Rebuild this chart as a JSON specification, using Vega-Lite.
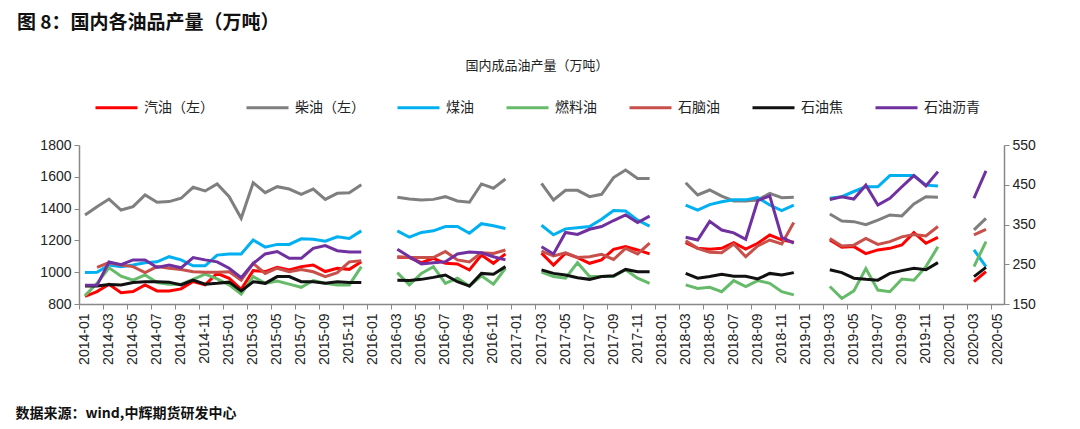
{
  "$schema": "https://vega.github.io/schema/vega-lite/v6.json",
  "width": 925,
  "height": 159,
  "autosize": {"type": "none"},
  "padding": {"left": 79, "top": 145, "right": 76, "bottom": 125},
  "background": "white",
  "config": {"view": {"stroke": null}},
  "title": {
    "text": "图 8：国内各油品产量（万吨）",
    "anchor": "start",
    "frame": "bounds",
    "fontSize": 19,
    "fontWeight": "bold",
    "font": "Noto Sans CJK SC",
    "color": "#111111",
    "offset": 27,
    "dx": 2
  },
  "data": {"values": [
    {"m":"2014-01","汽油（左）":848,"柴油（左）":1360,"煤油":229,"燃料油":171,"石油焦":195,"石油沥青":197},
    {"m":"2014-02","汽油（左）":878,"柴油（左）":1412,"煤油":230,"燃料油":202,"石脑油":242,"石油焦":195,"石油沥青":197},
    {"m":"2014-03","汽油（左）":924,"柴油（左）":1460,"煤油":248,"燃料油":241,"石脑油":254,"石油焦":199,"石油沥青":256},
    {"m":"2014-04","汽油（左）":871,"柴油（左）":1391,"煤油":244,"燃料油":220,"石脑油":248,"石油焦":198,"石油沥青":249},
    {"m":"2014-05","汽油（左）":878,"柴油（左）":1412,"煤油":248,"燃料油":210,"石脑油":244,"石油焦":204,"石油沥青":261},
    {"m":"2014-06","汽油（左）":920,"柴油（左）":1486,"煤油":254,"燃料油":223,"石脑油":229,"石油焦":206,"石油沥青":261},
    {"m":"2014-07","汽油（左）":882,"柴油（左）":1440,"煤油":256,"燃料油":204,"石脑油":244,"石油焦":206,"石油沥青":242},
    {"m":"2014-08","汽油（左）":882,"柴油（左）":1444,"煤油":269,"燃料油":200,"石脑油":240,"石油焦":205,"石油沥青":248},
    {"m":"2014-09","汽油（左）":895,"柴油（左）":1465,"煤油":261,"燃料油":200,"石脑油":237,"石油焦":198,"石油沥青":241},
    {"m":"2014-10","汽油（左）":941,"柴油（左）":1534,"煤油":246,"燃料油":212,"石脑油":231,"石油焦":210,"石油沥青":267},
    {"m":"2014-11","汽油（左）":920,"柴油（左）":1511,"煤油":246,"燃料油":225,"石脑油":230,"石油焦":200,"石油沥青":261},
    {"m":"2014-12","汽油（左）":993,"柴油（左）":1555,"煤油":273,"燃料油":213,"石脑油":230,"石油焦":202,"石油沥青":256},
    {"m":"2015-01","汽油（左）":962,"柴油（左）":1475,"煤油":276,"燃料油":198,"石脑油":231,"石油焦":205,"石油沥青":240},
    {"m":"2015-02","汽油（左）":892,"柴油（左）":1339,"煤油":276,"燃料油":175,"石脑油":210,"石油焦":183,"石油沥青":216},
    {"m":"2015-03","汽油（左）":1010,"柴油（左）":1563,"煤油":311,"燃料油":219,"石脑油":252,"石油焦":206,"石油沥青":252},
    {"m":"2015-04","汽油（左）":1004,"柴油（左）":1500,"煤油":293,"燃料油":202,"石脑油":227,"石油焦":202,"石油沥青":276},
    {"m":"2015-05","汽油（左）":1031,"柴油（左）":1538,"煤油":300,"燃料油":208,"石脑油":240,"石油焦":219,"石油沥青":282},
    {"m":"2015-06","汽油（左）":1014,"柴油（左）":1523,"煤油":300,"燃料油":200,"石脑油":231,"石油焦":219,"石油沥青":265},
    {"m":"2015-07","汽油（左）":1035,"柴油（左）":1490,"煤油":314,"燃料油":192,"石脑油":237,"石油焦":206,"石油沥青":265},
    {"m":"2015-08","汽油（左）":1045,"柴油（左）":1523,"煤油":313,"燃料油":209,"石脑油":231,"石油焦":206,"石油沥青":290},
    {"m":"2015-09","汽油（左）":1004,"柴油（左）":1458,"煤油":308,"燃料油":202,"石脑油":219,"石油焦":202,"石油沥青":297},
    {"m":"2015-10","汽油（左）":1025,"柴油（左）":1496,"煤油":319,"燃料油":198,"石脑油":229,"石油焦":206,"石油沥青":284},
    {"m":"2015-11","汽油（左）":1018,"柴油（左）":1500,"煤油":315,"燃料油":198,"石脑油":256,"石油焦":204,"石油沥青":281},
    {"m":"2015-12","汽油（左）":1066,"柴油（左）":1550,"煤油":334,"燃料油":244,"石脑油":259,"石油焦":204,"石油沥青":281},
    {"m":"2016-01"},
    {"m":"2016-02"},
    {"m":"2016-03","汽油（左）":1094,"柴油（左）":1471,"煤油":334,"燃料油":229,"石脑油":269,"石油焦":210,"石油沥青":288},
    {"m":"2016-04","汽油（左）":1092,"柴油（左）":1460,"煤油":318,"燃料油":198,"石脑油":267,"石油焦":209,"石油沥青":269},
    {"m":"2016-05","汽油（左）":1060,"柴油（左）":1454,"煤油":330,"燃料油":227,"石脑油":267,"石油焦":212,"石油沥青":251},
    {"m":"2016-06","汽油（左）":1087,"柴油（左）":1458,"煤油":334,"燃料油":244,"石脑油":267,"石油焦":217,"石油沥青":254},
    {"m":"2016-07","汽油（左）":1056,"柴油（左）":1475,"煤油":345,"燃料油":202,"石脑油":282,"石油焦":223,"石油沥青":256},
    {"m":"2016-08","汽油（左）":1052,"柴油（左）":1448,"煤油":345,"燃料油":215,"石脑油":261,"石油焦":206,"石油沥青":276},
    {"m":"2016-09","汽油（左）":1014,"柴油（左）":1440,"煤油":328,"燃料油":195,"石脑油":256,"石油焦":195,"石油沥青":281},
    {"m":"2016-10","汽油（左）":1108,"柴油（左）":1555,"煤油":352,"燃料油":221,"石脑油":279,"石油焦":227,"石油沥青":279},
    {"m":"2016-11","汽油（左）":1056,"柴油（左）":1528,"煤油":347,"燃料油":200,"石脑油":277,"石油焦":225,"石油沥青":269},
    {"m":"2016-12","汽油（左）":1115,"柴油（左）":1586,"煤油":340,"燃料油":240,"石脑油":286,"石油焦":244,"石油沥青":261},
    {"m":"2017-01"},
    {"m":"2017-02"},
    {"m":"2017-03","汽油（左）":1120,"柴油（左）":1559,"煤油":348,"燃料油":230,"石脑油":283,"石油焦":236,"石油沥青":294},
    {"m":"2017-04","汽油（左）":1045,"柴油（左）":1454,"煤油":324,"燃料油":219,"石脑油":271,"石油焦":227,"石油沥青":276},
    {"m":"2017-05","汽油（左）":1119,"柴油（左）":1515,"煤油":339,"燃料油":215,"石脑油":279,"石油焦":223,"石油沥青":330},
    {"m":"2017-06","汽油（左）":1092,"柴油（左）":1515,"煤油":342,"燃料油":254,"石脑油":267,"石油焦":216,"石油沥青":325},
    {"m":"2017-07","汽油（左）":1056,"柴油（左）":1475,"煤油":345,"燃料油":219,"石脑油":269,"石油焦":212,"石油沥青":338},
    {"m":"2017-08","汽油（左）":1077,"柴油（左）":1490,"煤油":363,"燃料油":219,"石脑油":275,"石油焦":219,"石油沥青":345},
    {"m":"2017-09","汽油（左）":1144,"柴油（左）":1595,"煤油":385,"燃料油":219,"石脑油":262,"石油焦":221,"石油沥青":360},
    {"m":"2017-10","汽油（左）":1161,"柴油（左）":1643,"煤油":384,"燃料油":236,"石脑油":290,"石油焦":237,"石油沥青":374},
    {"m":"2017-11","汽油（左）":1140,"柴油（左）":1590,"煤油":361,"燃料油":215,"石脑油":276,"石油焦":231,"石油沥青":355},
    {"m":"2017-12","汽油（左）":1115,"柴油（左）":1590,"煤油":346,"燃料油":202,"石脑油":303,"石油焦":231,"石油沥青":371},
    {"m":"2018-01"},
    {"m":"2018-02"},
    {"m":"2018-03","汽油（左）":1186,"柴油（左）":1563,"煤油":399,"燃料油":198,"石脑油":309,"石油焦":227,"石油沥青":318},
    {"m":"2018-04","汽油（左）":1150,"柴油（左）":1486,"煤油":386,"燃料油":189,"石脑油":290,"石油焦":215,"石油沥青":311},
    {"m":"2018-05","汽油（左）":1145,"柴油（左）":1517,"煤油":400,"燃料油":192,"石脑油":280,"石油焦":219,"石油沥青":358},
    {"m":"2018-06","汽油（左）":1150,"柴油（左）":1479,"煤油":407,"燃料油":181,"石脑油":279,"石油焦":225,"石油沥青":336},
    {"m":"2018-07","汽油（左）":1186,"柴油（左）":1448,"煤油":412,"燃料油":209,"石脑油":301,"石油焦":220,"石油沥青":329},
    {"m":"2018-08","汽油（左）":1146,"柴油（左）":1448,"煤油":412,"燃料油":194,"石脑油":269,"石油焦":220,"石油沥青":313},
    {"m":"2018-09","汽油（左）":1182,"柴油（左）":1454,"煤油":418,"燃料油":209,"石脑油":296,"石油焦":213,"石油沥青":410},
    {"m":"2018-10","汽油（左）":1234,"柴油（左）":1496,"煤油":399,"燃料油":202,"石脑油":311,"石油焦":227,"石油沥青":422},
    {"m":"2018-11","汽油（左）":1203,"柴油（左）":1469,"煤油":385,"燃料油":181,"石脑油":301,"石油焦":223,"石油沥青":318},
    {"m":"2018-12","汽油（左）":1188,"柴油（左）":1471,"煤油":399,"燃料油":173,"石脑油":355,"石油焦":229,"石油沥青":303},
    {"m":"2019-01"},
    {"m":"2019-02"},
    {"m":"2019-03","汽油（左）":1203,"柴油（左）":1366,"煤油":416,"燃料油":194,"石脑油":315,"石油焦":236,"石油沥青":413},
    {"m":"2019-04","汽油（左）":1157,"柴油（左）":1322,"煤油":420,"燃料油":164,"石脑油":296,"石油焦":229,"石油沥青":420},
    {"m":"2019-05","汽油（左）":1161,"柴油（左）":1318,"煤油":433,"燃料油":183,"石脑油":298,"石油焦":215,"石油沥青":414},
    {"m":"2019-06","汽油（左）":1117,"柴油（左）":1299,"煤油":445,"燃料油":239,"石脑油":315,"石油焦":212,"石油沥青":449},
    {"m":"2019-07","汽油（左）":1140,"柴油（左）":1328,"煤油":445,"燃料油":185,"石脑油":300,"石油焦":210,"石油沥青":399},
    {"m":"2019-08","汽油（左）":1150,"柴油（左）":1360,"煤油":473,"燃料油":181,"石脑油":307,"石油焦":227,"石油沥青":416},
    {"m":"2019-09","汽油（左）":1171,"柴油（左）":1354,"煤油":473,"燃料油":213,"石脑油":319,"石油焦":234,"石油沥青":445},
    {"m":"2019-10","汽油（左）":1249,"柴油（左）":1429,"煤油":473,"燃料油":210,"石脑油":325,"石油焦":240,"石油沥青":473},
    {"m":"2019-11","汽油（左）":1182,"柴油（左）":1475,"煤油":449,"燃料油":244,"石脑油":321,"石油焦":236,"石油沥青":447},
    {"m":"2019-12","汽油（左）":1219,"柴油（左）":1471,"煤油":447,"燃料油":294,"石脑油":345,"石油焦":254,"石油沥青":483},
    {"m":"2020-01"},
    {"m":"2020-02"},
    {"m":"2020-03","汽油（左）":941,"柴油（左）":1266,"煤油":286,"燃料油":244,"石脑油":324,"石油焦":219,"石油沥青":416},
    {"m":"2020-04","汽油（左）":1004,"柴油（左）":1339,"煤油":244,"燃料油":307,"石脑油":338,"石油焦":242,"石油沥青":485},
    {"m":"2020-05"}
  ]},
  "transform": [
    {"fold": ["汽油（左）","柴油（左）","煤油","燃料油","石脑油","石油焦","石油沥青"], "as": ["series","value"]}
  ],
  "encoding": {
    "x": {
      "field": "m",
      "type": "ordinal",
      "sort": null,
      "scale": {"type": "band", "paddingInner": 0, "paddingOuter": 0},
      "axis": {
        "values": ["2014-01","2014-03","2014-05","2014-07","2014-09","2014-11","2015-01","2015-03","2015-05","2015-07","2015-09","2015-11","2016-01","2016-03","2016-05","2016-07","2016-09","2016-11","2017-01","2017-03","2017-05","2017-07","2017-09","2017-11","2018-01","2018-03","2018-05","2018-07","2018-09","2018-11","2019-01","2019-03","2019-05","2019-07","2019-09","2019-11","2020-01","2020-03","2020-05"],
        "labelAngle": -90,
        "labelFont": "Liberation Sans",
        "labelFontSize": 14,
        "labelColor": "#222222",
        "labelPadding": 4,
        "bandPosition": 0,
        "tickSize": 5,
        "tickColor": "#888888",
        "domainColor": "#888888",
        "domainWidth": 1.5,
        "grid": false,
        "title": "数据来源：wind,中辉期货研发中心",
        "titleX": -64,
        "titleY": 109,
        "titleAlign": "left",
        "titleBaseline": "middle",
        "titleFont": "Noto Sans CJK SC",
        "titleFontSize": 14,
        "titleFontWeight": "bold",
        "titleColor": "#111111"
      }
    },
    "color": {
      "field": "series",
      "type": "nominal",
      "scale": {
        "domain": ["汽油（左）","柴油（左）","煤油","燃料油","石脑油","石油焦","石油沥青"],
        "range": ["#FF0000","#7F7F7F","#00B0F0","#66BB6A","#C8504B","#111111","#7030A0"]
      },
      "legend": {
        "orient": "none",
        "legendX": 15,
        "legendY": -85,
        "direction": "horizontal",
        "columns": 7,
        "title": "国内成品油产量（万吨）",
        "titleAnchor": "middle",
        "titleFont": "Noto Sans CJK SC",
        "titleFontSize": 13,
        "titleFontWeight": "normal",
        "titleColor": "#222222",
        "titlePadding": 12,
        "labelFont": "Noto Sans CJK SC",
        "labelFontSize": 14,
        "labelColor": "#222222",
        "labelOffset": 5,
        "symbolType": "stroke",
        "symbolSize": 1764,
        "symbolStrokeWidth": 3,
        "columnPadding": 26,
        "padding": 0
      }
    }
  },
  "layer": [
    {
      "transform": [{"filter": {"field": "series", "oneOf": ["汽油（左）","柴油（左）"]}}],
      "mark": {"type": "line", "strokeWidth": 3, "invalid": "break-paths-show-domains"},
      "encoding": {
        "y": {
          "field": "value",
          "type": "quantitative",
          "scale": {"domain": [800, 1800], "nice": false, "zero": false},
          "axis": {
            "orient": "left",
            "values": [800, 1000, 1200, 1400, 1600, 1800],
            "format": "d",
            "title": null,
            "grid": false,
            "labelFont": "Liberation Sans",
            "labelFontSize": 14,
            "labelColor": "#222222",
            "labelPadding": 3,
            "tickSize": 5,
            "tickColor": "#888888",
            "domainColor": "#888888",
            "domainWidth": 1.5
          }
        }
      }
    },
    {
      "transform": [{"filter": {"not": {"field": "series", "oneOf": ["汽油（左）","柴油（左）"]}}}],
      "mark": {"type": "line", "strokeWidth": 3, "invalid": "break-paths-show-domains"},
      "encoding": {
        "y": {
          "field": "value",
          "type": "quantitative",
          "scale": {"domain": [150, 550], "nice": false, "zero": false},
          "axis": {
            "orient": "right",
            "values": [150, 250, 350, 450, 550],
            "format": "d",
            "title": null,
            "grid": false,
            "labelFont": "Liberation Sans",
            "labelFontSize": 14,
            "labelColor": "#222222",
            "labelPadding": 3,
            "tickSize": 5,
            "tickColor": "#888888",
            "domainColor": "#888888",
            "domainWidth": 1.5
          }
        }
      }
    }
  ],
  "resolve": {"scale": {"y": "independent"}}
}
